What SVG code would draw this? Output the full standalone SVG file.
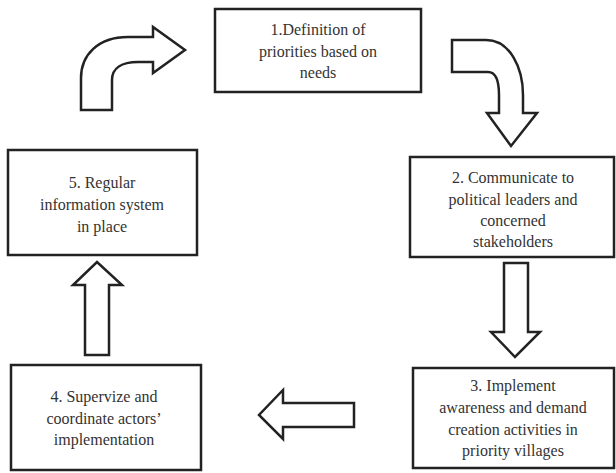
<svg xmlns="http://www.w3.org/2000/svg" width="616" height="473" viewBox="0 0 616 473">
<style>
.box{fill:#fff;stroke:#222;stroke-width:2.5}
.arr{fill:#fff;stroke:#222;stroke-width:2.5;stroke-linejoin:miter}
text{font-size:16px;fill:#333;text-anchor:middle}
</style>
<rect width="616" height="473" fill="#fff"/>
<g id="connectors">
<path class="arr" d="M81,110 L112,110 L112,80 C112,68 122,62 138,62 L153,62 L153,73 L185,50 L153,27 L153,37 L128,37 C98,37 81,55 81,78 Z"/>
<path class="arr" d="M452,40 L486,40 C510,40 523,68 523,95 L523,113 L537,113 L511,146 L487,113 L499,113 L499,95 C499,80 495,72 488,72 L452,72 Z"/>
<path class="arr" d="M504,263 L528,263 L528,332 L540,332 L515,357 L491,332 L504,332 Z"/>
<path class="arr" d="M354,403 L354,427 L283,427 L283,439 L259,415 L283,390 L283,403 Z"/>
<path class="arr" d="M85,355 L109,355 L109,285 L122,285 L97,262 L73,285 L85,285 Z"/>
</g>
<g font-family="Liberation Serif, DejaVu Serif, serif">
<g id="node1">
<rect class="box" x="215" y="9" width="206" height="83"/>
<text x="318" y="35">1.Definition of</text>
<text x="318" y="57">priorities based on</text>
<text x="318" y="78">needs</text>
</g>
<g id="node2">
<rect class="box" x="410" y="157" width="204" height="100"/>
<text x="513" y="183">2. Communicate to</text>
<text x="513" y="205">political leaders and</text>
<text x="513" y="226">concerned</text>
<text x="513" y="247">stakeholders</text>
</g>
<g id="node3">
<rect class="box" x="413" y="368" width="201" height="100"/>
<text x="513" y="391">3. Implement</text>
<text x="513" y="413">awareness and demand</text>
<text x="513" y="435">creation activities in</text>
<text x="513" y="456">priority villages</text>
</g>
<g id="node4">
<rect class="box" x="11" y="365" width="190" height="105"/>
<text x="104" y="402">4. Supervize and</text>
<text x="104" y="424">coordinate actors’</text>
<text x="104" y="445">implementation</text>
</g>
<g id="node5">
<rect class="box" x="8" y="150" width="189" height="105"/>
<text x="102" y="188">5. Regular</text>
<text x="102" y="210">information system</text>
<text x="102" y="232">in place</text>
</g>
</g>
</svg>
